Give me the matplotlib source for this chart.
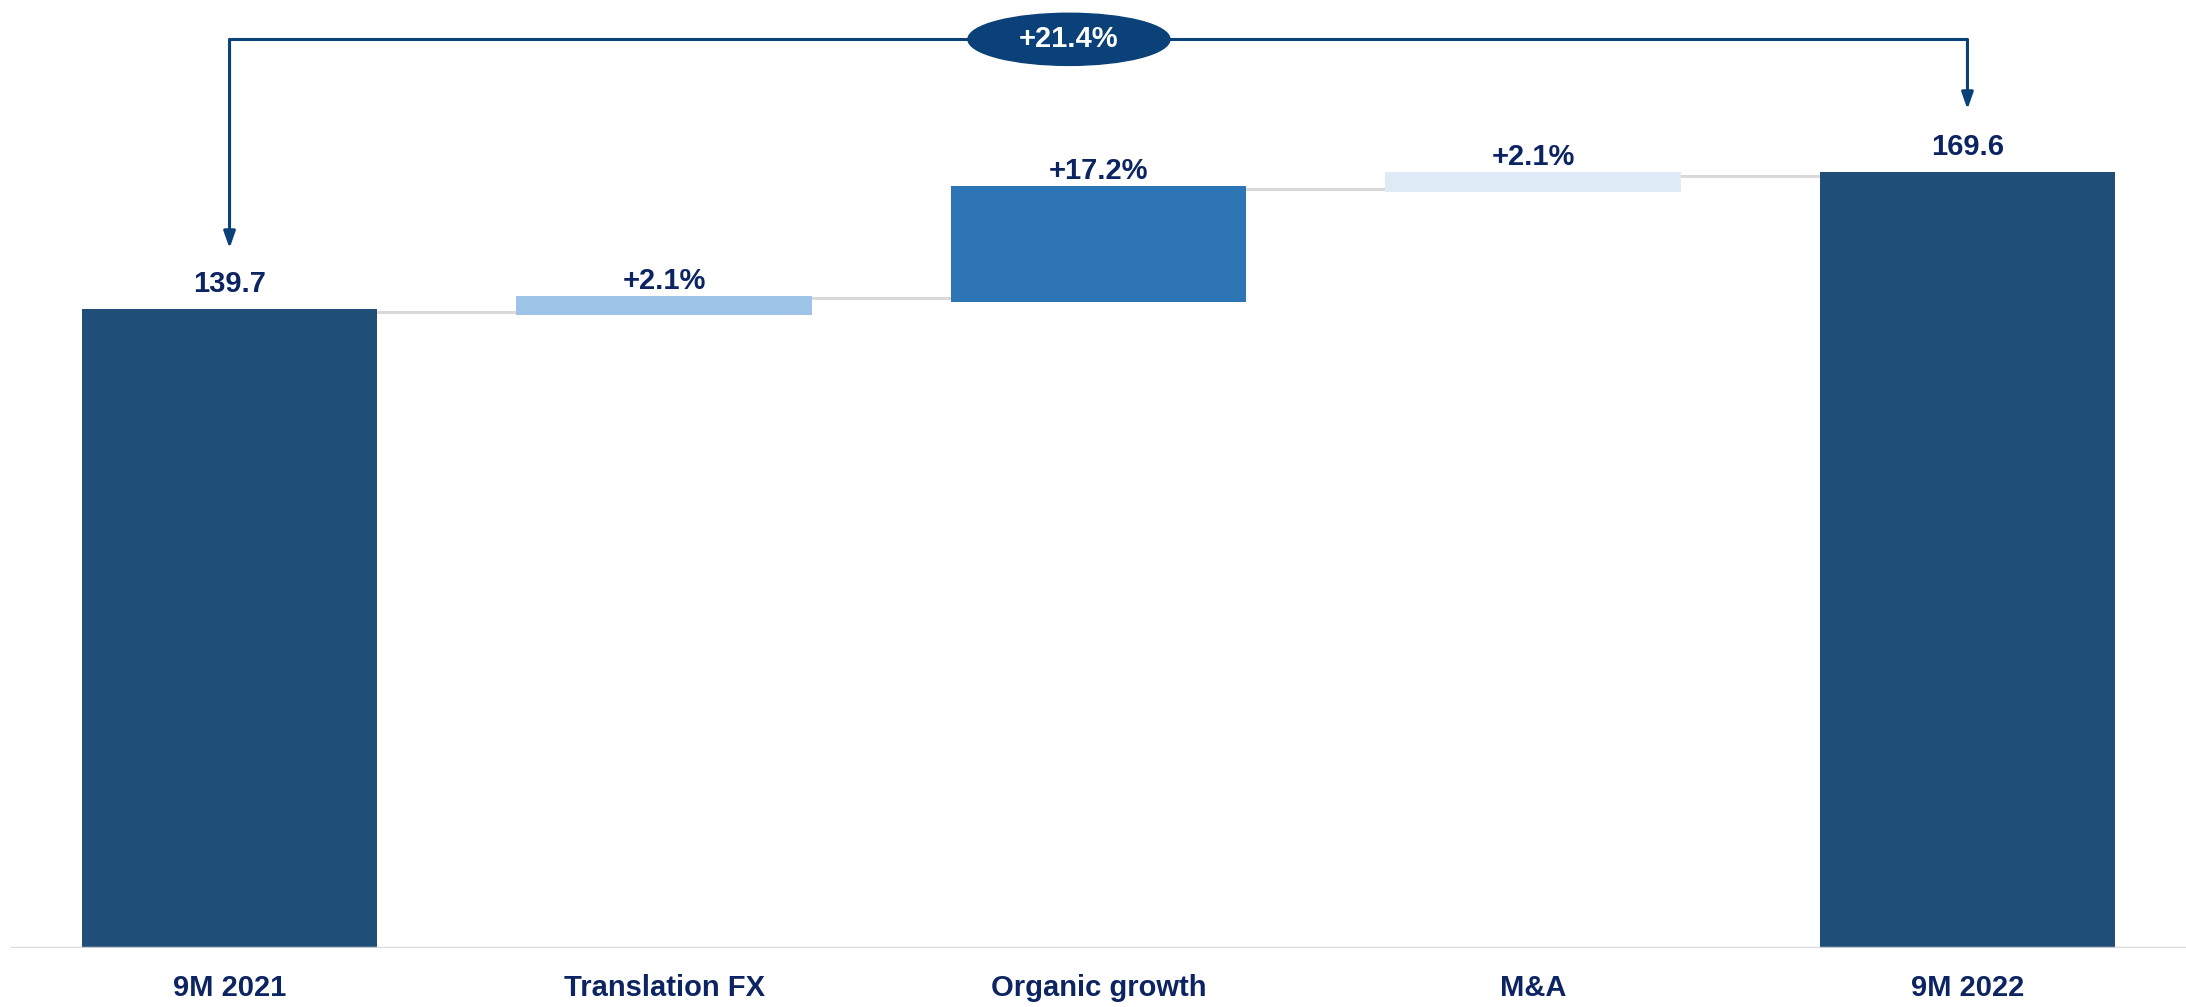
import matplotlib.pyplot as plt
import matplotlib as mpl
from matplotlib.patches import Ellipse

# data
labels = ['9M 2021', 'Translation FX', 'Organic growth', 'M&A', '9M 2022']
bar_low = [0, 138.4, 141.2, 165.3, 0]
bar_high = [139.7, 142.5, 166.6, 169.6, 169.6]
bar_text = ['139.7', '+2.1%', '+17.2%', '+2.1%', '169.6']
connector = [139.0, 142.1, 165.9, 168.8]
total_text = '+21.4%'

colors = ['#1f4e79', '#9dc3e6', '#2e75b6', '#deebf7', '#1f4e79']
navy = '#0c2461'
bracket_col = '#0b4179'

mpl.rcParams['font.family'] = ['Liberation Sans', 'DejaVu Sans']

fig = plt.figure(figsize=(21.86, 10.07), dpi=100)
ax = fig.add_axes([11 / 2186, 59 / 1007, 2175 / 2186, 948 / 1007])
ax.set_xlim(-0.503, 4.503)
ax.set_ylim(0, 207.3)

x = list(range(len(labels)))
heights = [h - l for h, l in zip(bar_high, bar_low)]
w = 0.68
ax.bar(x, heights, bottom=bar_low, width=w, color=colors, zorder=2)

# connectors between bars
for i, lev in enumerate(connector):
    ax.plot([i + w / 2, i + 1 - w / 2], [lev, lev], color='#d9d9d9', lw=2.2, zorder=1)

# value labels
for i, t in enumerate(bar_text):
    off = 8 if i in (0, 4) else 1
    ax.annotate(t, (i, bar_high[i]), xytext=(0, off), textcoords='offset points',
                ha='center', va='bottom', fontsize=21, fontweight='bold', color=navy)

# bracket with total change
top = 198.7
ax.plot([0, 4], [top, top], color=bracket_col, lw=2.2, zorder=3, clip_on=False,
        solid_capstyle='butt')
for xi, tip in [(0, 153.0), (4, 183.4)]:
    ax.annotate('', xy=(xi, tip), xytext=(xi, top),
                arrowprops=dict(arrowstyle='-|>,head_length=1.0,head_width=0.35',
                                color=bracket_col, lw=2.2, shrinkA=0, shrinkB=0))
ax.add_patch(Ellipse((1.932, top), 0.465, 11.4, color=bracket_col, zorder=4, clip_on=False))
ax.text(1.932, top, total_text, ha='center', va='center', fontsize=21,
        fontweight='bold', color='white', zorder=5)

# baseline
ax.axhline(0, color='#d9d9d9', lw=2.5, zorder=3, alpha=0.9)

ax.set_xticks(x)
ax.set_xticklabels(labels, fontsize=21, fontweight='bold', color=navy)
ax.tick_params(axis='x', length=0, pad=19)
ax.set_yticks([])
for s in ax.spines.values():
    s.set_visible(False)

fig.savefig('out.png', dpi=100)
